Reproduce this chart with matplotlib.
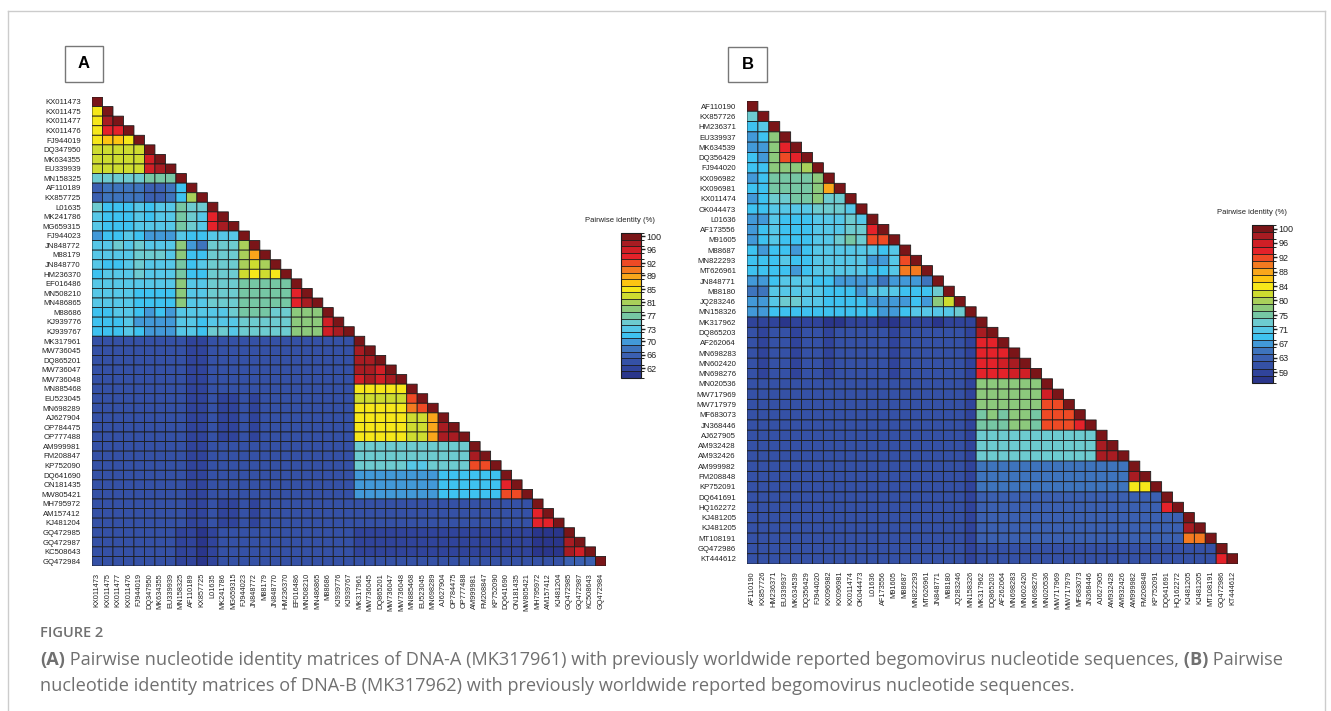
import numpy as np
import matplotlib.pyplot as plt
from matplotlib.colors import ListedColormap, BoundaryNorm
from matplotlib.patches import Rectangle
from matplotlib.lines import Line2D

plt.rcParams['font.family'] = ['Liberation Sans', 'DejaVu Sans']

W, H = 1331, 711

# identity scale colours, top box (100 %) to bottom box
BIN_COLOURS = ['#7a1518', '#a81c22', '#d01f26', '#e4222a', '#ee4a25', '#f47a20',
               '#f9a61b', '#fdc512', '#f6e71a', '#cedc30', '#a9d05a', '#8cc97c',
               '#76c7a4', '#6dcbd0', '#56c7e7', '#3ec2f0', '#4299d8', '#3e74bd',
               '#3b60b1', '#3551a6', '#30449b', '#2a368b']
# one character per cell, index into the bins above
CODES = "0123456789abcdefghijkl"

# ---------------- panel A (DNA-A) ----------------
A_BINS = [100, 98, 96, 94, 92, 90.5, 89, 87, 85, 83, 81, 79, 77, 75, 73, 71.5,
          70, 68, 66, 64, 62, 60]
A_TICKS = [100, 96, 92, 89, 85, 81, 77, 73, 70, 66, 62]
A_NAMES = ['KX011473', 'KX011475', 'KX011477', 'KX011476', 'FJ944019', 'DQ347950',
           'MK634355', 'EU339939', 'MN158325', 'AF110189', 'KX857725', 'L01635',
           'MK241786', 'MG659315', 'FJ944023', 'JN848772', 'M88179', 'JN848770',
           'HM236370', 'EF016486', 'MN508210', 'MN486865', 'M88686', 'KJ939776',
           'KJ939767', 'MK317961', 'MW736045', 'DQ865201', 'MW736047', 'MW736048',
           'MN885468', 'EU523045', 'MN698289', 'AJ627904', 'OP784475', 'OP777488',
           'AM999981', 'FM208847', 'KP752090', 'DQ641690', 'ON181435', 'MW805421',
           'MH795972', 'AM157412', 'KJ481204', 'GQ472985', 'GQ472987', 'KC508643',
           'GQ472984']
A_ROWS = [
    "0",
    "80",
    "810",
    "8330",
    "87780",
    "999990",
    "9999920",
    "99999210",
    "dddddccc0",
    "ihhhhiihf0",
    "ihhhhiihfa0",
    "dfffefeecdd0",
    "efffefeecde30",
    "efffeeeecde310",
    "gffefgggeffeee0",
    "eededeeebghddda0",
    "eeeedddebffddda60",
    "effedeeecfeddda9a0",
    "feeedeeecffddd98980",
    "eeeeeeeebeedddccccc0",
    "eeeeffffbeedddccccc30",
    "eeeeffffbeedddccccc310",
    "ffeefgfgeeeeedcccddbbb0",
    "fffeggggeefeeedddddbbb20",
    "fffefgggeefddedddddbbb210",
    "jjjjjjjjjkkjjjjjjjjjjjjjj" "0",
    "jjjjjjjjjkkjjjjjjjjjjjjjj" "10",
    "jjjjjjjjjkkjjjjjjjjjjjjjj" "110",
    "jjjjjjjjjkkjjjjjjjjjjjjjj" "1120",
    "jjjjjjjjjkkjjjjjjjjjjjjjj" "21210",
    "jjjjjjjjjkkjjjjjjjjjjjjjj" "888880",
    "jjjjjjjjjkkjkkjkjjjjjjjjj" "9999940",
    "jjjjjjjjjkkjkkjkjjjjjjjjj" "88888540",
    "jjjjjjjjjkkjkkjkjjjjjjjjj" "888889960",
    "jjjjjjjjjkkjkkjkjjjjjjjjj" "8888899610",
    "jjjjjjjjjkkjkkjkjjjjjjjjj" "88888996110",
    "jjjjjjjjjkkjjjjjjjjjjjjjj" "dddddddddd" "d0",
    "jjjjjjjjjkkjjjjjjjjjjjjjj" "dddddddddd" "d10",
    "jjjjjjjjjkkjjjjjjjjjjjjjj" "dddddeeddd" "d440",
    "jjjjjjjjjkkjjjjjjjjjjjjjj" "ggggggggff" "ffff0",
    "jjjjjjjjjkkjjjjjjjjjjjjjj" "ggggggggff" "ffff30",
    "jjjjjjjjjkkjjjjjjjjjjjjjj" "ggggggggff" "ffff440",
    "jjjjjjjjjkkjkkjkjjjjjjjjj" "jjjjjjjjjj" "jjjjjjj0",
    "jjjjjjjjjkkjkkjkjjjjjjjjj" "jjjjjjjjjj" "jjjjjjj30",
    "jjjjjjjjjkkjkkjkjjjjjjjjj" "jjjjjjjjjj" "jjjjjjj330",
    "jjjjjjjjkklkjjjjjjjjjjjjj" "kkkkkkkkkk" "kkkkkkklll0",
    "jjjjjjjjkklkjjjjjjjjjjjjj" "kkkkkkkkkk" "kkkkkkklll10",
    "jjjjjjjjkklkjjjjjjjjjjjjj" "kkkkkkkkkk" "kkkkkkklll120",
    "jjjjjjjjkklkjjjjjjjjjjjjj" "jjjjjjjjjj" "jjjjjjjjjjiii0",
]

# ---------------- panel B (DNA-B) ----------------
B_BINS = [100, 98, 96, 94, 92, 90, 88, 86, 84, 82, 80, 77.5, 75, 73, 71, 69,
          67, 65, 63, 61, 59, 57]
B_TICKS = [100, 96, 92, 88, 84, 80, 75, 71, 67, 63, 59]
B_NAMES = ['AF110190', 'KX857726', 'HM236371', 'EU339937', 'MK634539', 'DQ356429',
           'FJ944020', 'KX096982', 'KX096981', 'KX011474', 'OK044473', 'L01636',
           'AF173556', 'M91605', 'M88687', 'MN822293', 'MT626961', 'JN848771',
           'M88180', 'JQ283246', 'MN158326', 'MK317962', 'DQ865203', 'AF262064',
           'MN698283', 'MN602420', 'MN698276', 'MN020536', 'MW717969', 'MW717979',
           'MF683073', 'JN368446', 'AJ627905', 'AM932428', 'AM932426', 'AM999982',
           'FM208848', 'KP752091', 'DQ641691', 'HQ162272', 'KJ481205', 'KJ481205',
           'MT108191', 'GQ472986', 'KT444612']
B_ROWS = [
    "0",
    "d0",
    "fe0",
    "gfb0",
    "ggb30",
    "fgb430",
    "ffbbba0",
    "gfccccb0",
    "ffccccb60",
    "gfddccbdd0",
    "ffeeeeddde0",
    "ggefffeeede0",
    "gfefffeeedd30",
    "gfefffeedcd440",
    "fgffgfeeeeeefe0",
    "fffeffeeeeegge40",
    "ffffgfeeeeeffe550",
    "ggfeeeffgggghgggh0",
    "hheeeeefffgeeefffd0",
    "ggeddeeffffggggfgb90",
    "ggffffffffffggfeeeed0",
    "kkklkkkllkkkllkkklkkk" "0",
    "jkjjkjjkjjjjjkjjjjjjk" "10",
    "jkjjkjjkjjjjjkjjjjjjk" "330",
    "jkjjkjjkjjjjjkjjjjjjk" "3330",
    "jkjjkjjkjjjjjkjjjjjjk" "33210",
    "jkjjkjjkjjjjjkjjjjjjk" "333220",
    "jjjjjjjjjjjjjjjjjjjjk" "bbbbbb0",
    "jjjjjjjjjjjjjjjjjjjjk" "bbbbbb20",
    "jjjjjjjjjjjjjjjjjjjjk" "bbbbbb440",
    "jjjjjjjjjjjjjjjjjjjjk" "cbcbbc4440",
    "jjjjjjjjjjjjjjjjjjjjk" "cccbbc44430",
    "jjjjjjjjjjjjjjjjjjjjk" "dddddddddd" "d0",
    "jjjjjjjjjjjjjjjjjjjjk" "dddddddddd" "d10",
    "jjjjjjjjjjjjjjjjjjjjk" "dddddddddd" "d110",
    "jjjjjjjjjjjjjjjjjjjjk" "hhhhhhhhhh" "hhhh0",
    "jjjjjjjjjjjjjjjjjjjjk" "hhhhhhhhhh" "hhhh10",
    "jjjjjjjjjjjjjjjjjjjjk" "hhhhhhhhhh" "hhhh880",
    "jjjjjjjjjjjjjjjjjjjjk" "iiiiiiiiii" "iiiiiii0",
    "jjjjjjjjjjjjjjjjjjjjk" "iiiiiiiiii" "iiiiiii30",
    "jjjjjjjjjjjjjjjjjjjjk" "iiiiiiiiii" "iiiiiiiii0",
    "jjjjjjjjjjjjjjjjjjjjk" "iiiiiiiiii" "iiiiiiiii10",
    "jjjjjjjjjjjjjjjjjjjjk" "iiiiiiiiii" "iiiiiiiii550",
    "jjjjjjjjjjjjjjjjjjjjk" "jjjjjjjjjj" "jjjjjjjjjj" "jj0",
    "jjjjjjjjjjjjjjjjjjjjk" "jjjjjjjjjj" "jjjjjjjjjj" "jj30",
]


def decode(rows, bins):
    n = len(rows)
    m = np.full((n, n), np.nan)
    for i, row in enumerate(rows):
        if len(row) != i + 1:
            raise ValueError("row %d has %d cells" % (i, len(row)))
        for j, ch in enumerate(row):
            m[i, j] = bins[CODES.index(ch)]
    return np.ma.masked_invalid(m)


def px_rect(x0, y0, x1, y1):
    return [x0 / W, 1 - y1 / H, (x1 - x0) / W, (y1 - y0) / H]


def draw_panel(ax, cax, rows, names, bins, ticks):
    asc = bins[::-1]
    edges = [asc[0] - 1] + [(a + b) / 2 for a, b in zip(asc[:-1], asc[1:])] + [asc[-1] + 1]
    cmap = ListedColormap(BIN_COLOURS[::-1])
    norm = BoundaryNorm(edges, cmap.N)
    data = decode(rows, bins)
    n = len(names)
    mesh = ax.pcolor(np.arange(n + 1), np.arange(n + 1), data, cmap=cmap, norm=norm,
                     edgecolors='#1c1c1c', linewidth=0.6)
    ax.set_xlim(0, n)
    ax.set_ylim(n, 0)
    for s in ax.spines.values():
        s.set_visible(False)
    ax.set_xticks(np.arange(n) + 0.5)
    ax.set_yticks(np.arange(n) + 0.5)
    ax.set_xticklabels(names, rotation=90, fontsize=5.3, color='#222222')
    ax.set_yticklabels(names, fontsize=5.6, color='#222222')
    ax.tick_params(axis='y', length=0, pad=8)
    ax.tick_params(axis='x', length=0, pad=5)

    cb = plt.colorbar(mesh, cax=cax, ticks=ticks, drawedges=True)
    cb.outline.set_edgecolor('#1c1c1c')
    cb.outline.set_linewidth(0.8)
    cb.dividers.set_color('#1c1c1c')
    cb.dividers.set_linewidth(0.6)
    cax.tick_params(labelsize=6.5, length=3, width=1, pad=1, colors='#222222')


fig = plt.figure(figsize=(W / 100, H / 100), dpi=100)

axA = fig.add_axes(px_rect(92, 97, 606, 566))
caxA = fig.add_axes(px_rect(621, 233, 641, 378))
draw_panel(axA, caxA, A_ROWS, A_NAMES, A_BINS, A_TICKS)
fig.text(620 / W, 1 - 220 / H, 'Pairwise identity (%)', fontsize=5.5,
         ha='center', va='center', color='#222222')

axB = fig.add_axes(px_rect(747, 101, 1238, 564))
caxB = fig.add_axes(px_rect(1252, 225, 1273, 383))
draw_panel(axB, caxB, B_ROWS, B_NAMES, B_BINS, B_TICKS)
fig.text(1252 / W, 1 - 212 / H, 'Pairwise identity (%)', fontsize=5.5,
         ha='center', va='center', color='#222222')

# panel letters in boxes
for (x0, y0, x1, y1), letter in [((65, 46, 103, 82), 'A'), ((728, 47, 767, 82), 'B')]:
    fig.patches.append(Rectangle((x0 / W, 1 - y1 / H), (x1 - x0) / W, (y1 - y0) / H,
                                 transform=fig.transFigure, facecolor='white',
                                 edgecolor='#777777', linewidth=1))
    fig.text((x0 + x1) / 2 / W, 1 - (y0 + y1) / 2 / H, letter, fontsize=12,
             fontweight='bold', ha='center', va='center', color='black')

# frame round the figure
for xs, ys in [([8, 8], [711, 11]), ([8, 1325], [11, 11]), ([1325, 1325], [11, 711])]:
    fig.lines.append(Line2D([x / W for x in xs], [1 - y / H for y in ys],
                            transform=fig.transFigure, color='#cccccc', linewidth=1))

# caption
CAP = dict(family=['Open Sans', 'DejaVu Sans'], fontsize=13.1, color='#707070', va='center')
fig.text(40 / W, 1 - 633 / H, 'FIGURE 2', family=['Open Sans', 'DejaVu Sans'],
         fontsize=10.5, fontweight='semibold', color='#707070', va='center')

renderer = fig.canvas.get_renderer()


def caption_line(pieces, x, y):
    for txt, weight in pieces:
        t = fig.text(x / W, 1 - y / H, txt, fontweight=weight, **CAP)
        x += t.get_window_extent(renderer).width


caption_line([('(A)', 'bold'),
              (' Pairwise nucleotide identity matrices of DNA-A (MK317961) with previously '
               'worldwide reported begomovirus nucleotide sequences,', 'normal'),
              (' (B)', 'bold'), (' Pairwise', 'normal')], 40, 660)
caption_line([('nucleotide identity matrices of DNA-B (MK317962) with previously worldwide '
               'reported begomovirus nucleotide sequences.', 'normal')], 40, 686)

fig.savefig('out.png', dpi=100)
